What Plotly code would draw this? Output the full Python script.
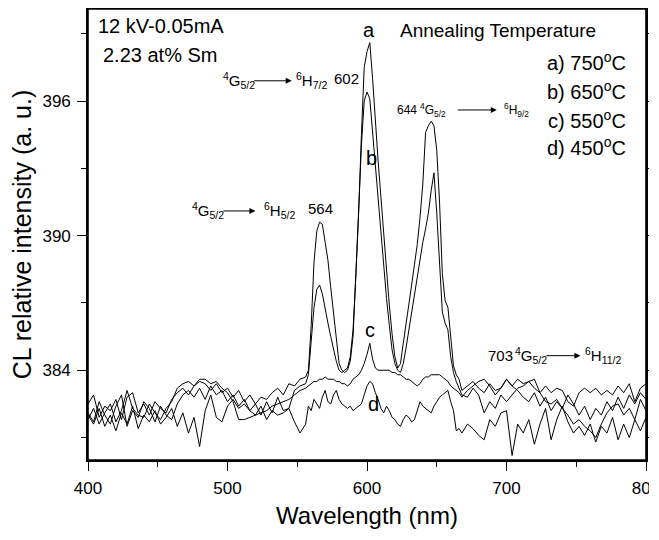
import plotly.graph_objects as go

FONT = "Liberation Sans, Arial, sans-serif"

# wavelength grid (nm): coarse in the baseline, finer around the Sm3+ peaks
wavelength = list(range(400, 556, 4)) + list(range(556, 670, 2)) + list(range(672, 801, 4))

# CL intensity (a. u.)
int_750 = [382.5, 382.9, 381.9, 382.4, 382.2, 382.7, 381.8, 382.8, 383.0, 382.1,
           382.5, 382.0, 382.6, 382.3, 382.1, 382.7, 383.0, 383.2, 382.9, 383.3,
           383.5, 383.4, 383.1, 383.4, 383.0, 383.2, 382.8, 383.1, 382.6, 382.9,
           382.5, 382.8, 382.7, 383.0, 383.2, 382.9, 383.4, 383.3, 383.6,
           383.7, 384.0, 386.0, 388.8, 390.2, 390.6, 390.5, 389.7, 388.9, 387.7,
           386.5, 385.2, 384.3, 384.0, 383.9, 384.0, 384.4, 385.5, 388.0, 391.0,
           394.5, 397.5, 398.2, 398.6, 397.0, 395.0, 393.3, 391.7, 390.0, 388.4,
           386.9, 385.6, 384.6, 384.1, 384.3, 385.2, 386.0, 386.9, 387.8, 388.7,
           389.6, 390.8, 392.3, 394.6, 394.9, 395.1, 394.9, 393.8, 391.5, 388.3,
           387.1, 386.8, 385.3, 384.2, 383.8, 383.6, 383.1,
           383.3, 383.5, 383.2, 383.0, 383.4, 383.1, 383.2, 383.6, 383.3, 383.6,
           383.4, 383.5, 383.2, 383.0, 383.3, 383.0, 383.2, 383.1, 382.6, 382.4,
           383.0, 383.2, 383.0, 383.2, 382.9, 383.1, 382.9, 383.3, 383.0, 383.4,
           382.6, 383.2, 383.4]

int_650 = [382.1, 381.7, 382.6, 382.0, 381.6, 382.4, 382.9, 381.5, 382.2, 381.9,
           382.6, 382.3, 381.7, 382.4, 382.0, 381.8, 382.5, 382.9, 383.1, 382.8,
           383.2, 382.7, 383.3, 382.9, 383.1, 382.6, 382.9, 382.4, 382.7, 382.2,
           382.5, 382.0, 382.6, 382.1, 382.8, 382.2, 382.3, 383.1, 383.3,
           383.4, 383.8, 385.3, 386.8, 387.6, 387.8, 387.4, 386.7, 386.1, 385.5,
           384.9, 384.4, 384.0, 383.9, 384.0, 384.1, 384.6, 385.8, 388.2, 391.0,
           394.0, 396.0, 396.4, 396.1, 394.6, 393.0, 391.6, 390.0, 388.6, 387.2,
           386.0, 384.9, 384.3, 384.0, 383.9, 384.3, 385.0, 385.8, 386.6, 387.4,
           388.2, 388.9, 389.7, 390.3, 391.0, 392.0, 392.8, 391.0, 388.6, 386.6,
           386.1, 385.8, 384.6, 383.9, 383.5, 383.2, 382.9,
           382.8, 383.2, 382.9, 382.1, 382.6, 382.3, 382.9, 382.6, 382.9, 383.2,
           383.3, 383.5, 383.6, 383.0, 382.6, 382.5, 382.7, 382.3, 382.0, 381.6,
           381.8, 381.5, 381.3, 381.0, 381.6, 382.1, 382.4, 382.5, 382.0, 382.3,
           381.8, 382.7, 382.2]

int_550 = [381.8, 382.3, 381.6, 382.1, 382.5, 381.7, 382.2, 383.1, 382.3, 382.0,
           381.9, 382.5, 382.1, 381.8, 382.3, 382.6, 383.2, 383.4, 383.5, 383.3,
           383.6, 383.6, 383.4, 383.5, 383.2, 383.0, 382.6, 381.8, 381.8, 381.9,
           382.0, 382.1, 382.2, 382.4, 382.5, 382.6, 382.7, 382.9, 383.1,
           383.2, 383.3, 383.4, 383.5, 383.5, 383.6, 383.6, 383.7, 383.6, 383.6,
           383.6, 383.5, 383.5, 383.4, 383.4, 383.3, 383.4, 383.6, 383.7, 383.8,
           384.0, 384.3, 384.7, 385.2, 384.5, 384.1, 384.0, 384.0, 384.0, 384.0,
           384.0, 383.9, 383.9, 383.8, 383.8, 383.7, 383.6, 383.6, 383.5, 383.4,
           383.3, 383.4, 383.6, 383.7, 383.7, 383.8, 383.8, 383.8, 383.8, 383.7,
           383.6, 383.5, 383.3, 383.2, 383.1, 383.0, 382.8,
           383.1, 383.3, 383.5, 383.6, 383.3, 382.9, 383.2, 383.6, 383.3, 383.1,
           382.8, 382.6, 383.0, 382.4, 382.8, 382.2, 382.6, 382.3, 382.9, 382.5,
           382.0, 382.4, 381.8, 382.3, 382.0, 382.6, 382.2, 382.8, 382.3, 382.9,
           382.5, 383.0, 382.7]

int_450 = [382.0, 381.6, 382.3, 381.5, 382.0, 381.3, 382.1, 381.6, 382.4, 381.4,
           382.0, 381.7, 382.2, 381.6, 381.9, 382.3, 381.5, 382.1, 381.2, 381.9,
           380.6, 382.2, 382.9, 381.9, 381.7, 382.4, 382.7, 382.3, 382.5, 382.2,
           382.0, 382.4, 381.8, 382.2, 382.0, 382.1, 382.3, 381.7, 381.2,
           381.6, 382.4, 382.2, 382.7, 382.5, 382.3, 382.8, 383.1, 382.6, 382.5,
           382.9, 383.1, 382.7, 382.5, 382.4, 382.3, 382.4, 382.2, 382.3, 382.4,
           382.5, 382.9, 383.3, 383.5, 383.4, 383.0, 382.7, 382.3, 382.1, 382.4,
           382.2, 381.9, 381.8, 381.6, 381.5, 381.8, 382.0, 381.9, 381.7, 381.8,
           382.2, 382.6, 382.4, 382.3, 382.2, 382.1, 382.4, 382.6, 382.8, 382.9,
           383.0, 383.1, 382.6, 382.2, 381.3, 381.4, 381.2,
           381.6, 381.4, 381.1, 380.9, 381.8, 381.5, 382.1, 382.2, 380.2, 381.6,
           381.2, 381.8, 380.7, 381.6, 382.3, 380.9, 381.8, 382.4, 381.7, 381.2,
           381.5, 381.1, 381.6, 380.8, 381.5, 381.2, 381.9, 380.9, 381.6, 381.0,
           381.8, 381.3, 381.9]

series = [("a", int_750), ("b", int_650), ("c", int_550), ("d", int_450)]
legend_lines = ["a) 750<sup>o</sup>C", "b) 650<sup>o</sup>C",
                "c) 550<sup>o</sup>C", "d) 450<sup>o</sup>C"]
legend_y = [397.78, 396.47, 395.17, 393.95]

fig = go.Figure()
for name, vals in series:
    assert len(vals) == len(wavelength), name
    fig.add_trace(go.Scatter(x=wavelength, y=vals, mode="lines", name=name,
                             line=dict(color="black", width=1), showlegend=False))


def txt(x, y, s, size, anchor="left"):
    fig.add_annotation(x=x, y=y, text=s, showarrow=False, xanchor=anchor,
                       yanchor="middle", font=dict(family=FONT, size=size, color="black"))


def arrow(x0, x1, y):
    fig.add_annotation(x=x1, y=y, ax=x0, ay=y, axref="x", ayref="y", text="",
                       showarrow=True, arrowhead=2, arrowsize=1.2, arrowwidth=1,
                       arrowcolor="black")


# sample info
txt(405.5, 399.35, "12 kV-0.05mA", 20)
txt(409, 398.05, "2.23 at% Sm", 20)

# curve labels
txt(601.5, 399.15, "a", 20, "center")
txt(603.2, 393.45, "b", 20, "center")
txt(602.5, 385.8, "c", 20, "center")
txt(605, 382.5, "d", 20, "center")

# legend block
txt(622, 399.15, "Annealing Temperature", 19)
for s, y in zip(legend_lines, legend_y):
    txt(787, y, s, 20, "right")

# transitions
txt(495.5, 396.9, "<sup>4</sup>G<sub>5/2</sub>", 15)
arrow(518, 546, 396.9)
txt(547.5, 396.9, "<sup>6</sup>H<sub>7/2</sub>", 15)
txt(575, 397.0, "602", 15)

txt(473, 391.1, "<sup>4</sup>G<sub>5/2</sub>", 15)
arrow(496, 520, 391.1)
txt(524.5, 391.1, "<sup>6</sup>H<sub>5/2</sub>", 15)
txt(556, 391.2, "564", 15)

txt(620, 395.6, "644", 12)
txt(636.5, 395.6, "<sup>4</sup>G<sub>5/2</sub>", 12)
arrow(664, 693, 395.6)
txt(697, 395.6, "<sup>6</sup>H<sub>9/2</sub>", 12)

txt(685.3, 384.65, "703", 15)
txt(705, 384.65, "<sup>4</sup>G<sub>5/2</sub>", 15)
arrow(727.5, 753, 384.65)
txt(755, 384.65, "<sup>6</sup>H<sub>11/2</sub>", 15)

axis_common = dict(showline=True, linecolor="black", linewidth=1.6, mirror="ticks",
                   ticks="outside", ticklen=9, tickwidth=1.2, tickcolor="black",
                   showgrid=False, zeroline=False, automargin=False,
                   ticklabeloverflow="allow", ticklabelstandoff=3,
                   tickfont=dict(family=FONT, size=17, color="black"))

fig.update_xaxes(range=[400, 800], tickvals=[400, 500, 600, 700, 800],
                 minor=dict(tickvals=[450, 550, 650, 750], ticklen=5, ticks="outside",
                            tickcolor="black", tickwidth=1.2),
                 title=dict(text="Wavelength (nm)", standoff=10,
                            font=dict(family=FONT, size=24, color="black")),
                 **axis_common)
fig.update_yaxes(range=[380, 400.1], tickvals=[384, 390, 396],
                 minor=dict(tickvals=[381, 387, 393, 399], ticklen=5, ticks="outside",
                            tickcolor="black", tickwidth=1.2),
                 title=dict(text="CL relative intensity (a. u.)", standoff=6,
                            font=dict(family=FONT, size=25, color="black")),
                 **axis_common)

# frame round the plot area (top and right edges)
fig.add_shape(type="rect", xref="paper", yref="paper", x0=0, y0=0, x1=1, y1=1,
              line=dict(color="black", width=1.6), layer="above")

# the page body keeps its default 8 px margin; keep the figure inside the
# 659x540 window so no scrollbars eat into it
fig.update_layout(width=641, height=522, plot_bgcolor="white", paper_bgcolor="white",
                  margin=dict(l=80, r=3, t=1, b=70), font=dict(family=FONT))

fig.write_html("out.html")
